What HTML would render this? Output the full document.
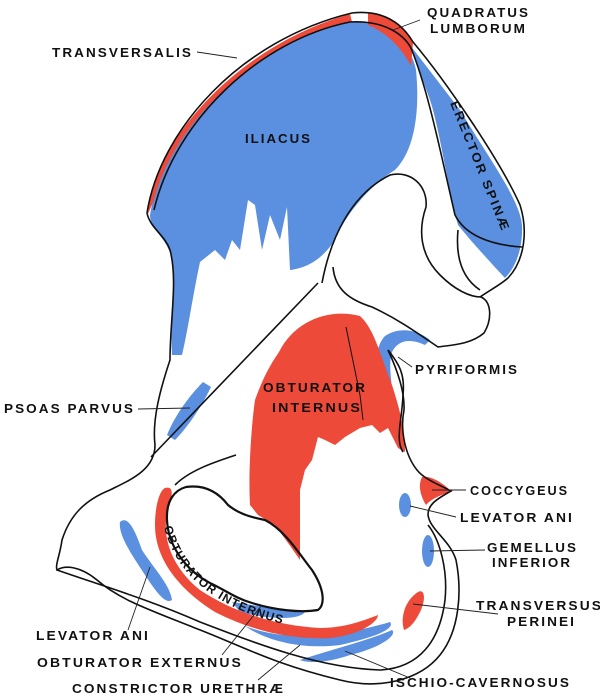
<!DOCTYPE html>
<html><head><meta charset="utf-8"><style>
html,body{margin:0;padding:0;background:#fff;}
svg{display:block;}
text{font-family:"Liberation Sans",sans-serif;font-weight:bold;font-size:12.5px;fill:#111;letter-spacing:1.9px;}
</style></head><body>
<svg width="600" height="699" viewBox="0 0 600 699" xmlns="http://www.w3.org/2000/svg">
<g fill="#5b8fe0">
<path d="M150,215 C165,130 250,40 352,22 C385,22 410,40 416,70 C420,110 415,150 395,170 C370,185 345,215 335,240 C320,262 305,268 290,270 L287,207 L280,240 L270,215 L262,250 L255,205 L248,200 L240,250 L232,240 L225,260 L215,250 L200,262 C192,300 188,330 182,355 L172,355 C170,320 176,290 172,258 C165,235 150,230 150,215 Z"/>
<path d="M410,45 L460,110 C490,160 520,200 522,225 C523,250 515,268 505,278 C490,262 470,240 458,225 C448,190 440,130 430,100 Z"/>
<path d="M384,393 C376,375 372,350 385,336 C400,326 418,330 430,340 L425,345 C410,338 398,340 392,352 C388,365 392,380 392,393 Z"/>
<path d="M203,382 L211,387 C200,410 185,430 175,440 L167,435 C175,415 190,395 203,382 Z"/>
<path d="M120,522 C128,515 135,530 142,550 C155,570 170,585 172,600 C165,605 155,590 145,575 C132,555 118,535 120,522 Z"/>
<path d="M232,602 C260,606 290,612 305,612 C300,620 270,620 240,612 Z"/>
<path d="M245,626 C280,640 330,640 390,622 C395,628 380,636 340,645 C300,650 265,640 245,626 Z"/>
<path d="M300,660 C330,650 370,640 392,630 C398,635 380,648 350,655 C330,662 310,664 300,660 Z"/>
<ellipse cx="405" cy="505" rx="6" ry="12"/>
<ellipse cx="428" cy="551" rx="6" ry="16"/>
</g>
<g fill="#ee4a3a">
<path d="M148,214 C150,150 230,48 350,14 L352,22 C260,40 175,120 154,200 Z"/>
<path d="M368,13 C385,12 403,25 413,43 L411,66 C400,45 385,32 368,25 Z"/>
<path d="M279,352 C295,320 330,308 360,316 C375,330 380,355 392,385 C400,410 405,430 405,452 L398,448 L388,428 L380,433 L372,425 L360,428 L345,437 L335,445 L325,440 L318,437 L312,460 L305,470 L300,490 L300,560 C292,548 282,535 275,525 L258,515 L250,505 C248,470 252,420 255,400 C262,380 270,365 279,352 Z"/>
<path d="M165,488 C175,485 172,498 168,510 C160,540 175,570 200,590 C230,610 270,625 320,628 C345,628 365,620 378,615 C378,622 360,635 330,638 C290,640 250,630 215,612 C180,590 155,560 155,525 C155,505 160,490 165,488 Z"/>
<path d="M422,477 C432,475 445,485 451,491 C442,495 432,498 426,505 C420,495 418,485 422,477 Z"/>
<path d="M418,592 C425,588 426,600 420,612 C415,622 410,628 404,630 C400,618 405,600 418,592 Z"/>
</g>
<g fill="none" stroke="#111" stroke-width="1.6">
<path d="M147,213 C160,130 240,40 352,13 C380,10 400,20 413,42 C445,80 500,160 520,205 C528,230 525,260 508,278 C500,285 490,290 480,297"/>
<path d="M154,210 C175,120 260,40 350,22 C385,20 405,35 412,50"/>
<path d="M411,48 C428,90 440,150 455,215 C465,235 490,245 522,247"/>
<path d="M147,213 C150,228 165,235 170,250 C178,280 170,320 170,360 C160,390 152,420 155,445 C155,470 130,480 110,490 C85,500 70,515 62,540 C60,555 55,565 57,570 C65,565 80,566 97,580 C120,600 150,610 195,628 C240,645 270,663 340,680 C380,690 420,680 440,655 C460,630 462,590 456,560 C450,540 430,530 428,515 C428,505 435,500 451,491 C440,485 425,480 417,470 C405,455 400,430 404,410 C405,390 395,365 388,350"/>
<path d="M57,570 C100,585 150,600 200,622 C260,645 320,668 380,670 C420,668 440,640 445,600 C448,570 440,540 428,525"/>
<path d="M322,283 C330,240 350,195 390,175 C410,170 428,185 426,207 C418,230 420,255 440,275 C455,290 470,297 481,297 C492,302 492,320 484,333 C470,345 450,345 438,347 C420,335 400,320 372,307 C350,300 335,290 333,267"/>
<path d="M458,230 C455,262 465,280 480,290"/>
<path d="M318,283 L151,457"/>
<path d="M388,350 C400,365 405,375 403,395 C402,420 395,440 403,452"/>
<path stroke-width="2.2" d="M186,487 C200,485 215,488 228,505 C240,515 255,518 265,520 C285,530 300,555 312,570 C325,590 325,605 318,610 C300,613 275,610 252,603 C235,598 225,590 210,583 C185,570 168,545 167,520 C166,500 175,490 186,487 Z"/>
<path d="M236,455 C215,462 190,470 175,485"/>
<path d="M346,327 L360,395 L363,420" stroke-width="1"/>
</g>
<g stroke="#222" stroke-width="0.9" fill="none">
<line x1="197" y1="52" x2="237" y2="58"/>
<line x1="420" y1="20" x2="393" y2="30"/>
<line x1="412" y1="367" x2="398" y2="357"/>
<line x1="138" y1="409" x2="190" y2="408"/>
<line x1="466" y1="490" x2="432" y2="490"/>
<line x1="456" y1="517" x2="410" y2="506"/>
<line x1="485" y1="550" x2="430" y2="551"/>
<line x1="498" y1="614" x2="413" y2="604"/>
<line x1="128" y1="630" x2="150" y2="567"/>
<line x1="222" y1="655" x2="262" y2="605"/>
<line x1="258" y1="680" x2="300" y2="645"/>
<line x1="410" y1="678" x2="345" y2="651"/>
</g>
<text x="52" y="57" textLength="141" lengthAdjust="spacingAndGlyphs">TRANSVERSALIS</text>
<text x="427" y="17" textLength="103" lengthAdjust="spacingAndGlyphs">QUADRATUS</text>
<text x="430" y="33" textLength="97" lengthAdjust="spacingAndGlyphs">LUMBORUM</text>
<text x="245" y="143" textLength="67" lengthAdjust="spacingAndGlyphs">ILIACUS</text>
<text transform="translate(450,103) rotate(68)" textLength="140" lengthAdjust="spacingAndGlyphs">ERECTOR SPINÆ</text>
<text x="415" y="374" textLength="104" lengthAdjust="spacingAndGlyphs">PYRIFORMIS</text>
<text x="263" y="392" textLength="104" lengthAdjust="spacingAndGlyphs">OBTURATOR</text>
<text x="272" y="412" textLength="90" lengthAdjust="spacingAndGlyphs">INTERNUS</text>
<text x="4" y="413" textLength="131" lengthAdjust="spacingAndGlyphs">PSOAS PARVUS</text>
<text x="470" y="495" textLength="99" lengthAdjust="spacingAndGlyphs">COCCYGEUS</text>
<text x="460" y="522" textLength="114" lengthAdjust="spacingAndGlyphs">LEVATOR ANI</text>
<text x="487" y="552" textLength="91" lengthAdjust="spacingAndGlyphs">GEMELLUS</text>
<text x="492" y="567" textLength="80" lengthAdjust="spacingAndGlyphs">INFERIOR</text>
<text x="476" y="610" textLength="127" lengthAdjust="spacingAndGlyphs">TRANSVERSUS</text>
<text x="507" y="626" textLength="69" lengthAdjust="spacingAndGlyphs">PERINEI</text>
<text x="36" y="640" textLength="114" lengthAdjust="spacingAndGlyphs">LEVATOR ANI</text>
<text x="37" y="667" textLength="206" lengthAdjust="spacingAndGlyphs">OBTURATOR EXTERNUS</text>
<text x="72" y="693" textLength="213" lengthAdjust="spacingAndGlyphs">CONSTRICTOR URETHRÆ</text>
<text x="390" y="687" textLength="181" lengthAdjust="spacingAndGlyphs">ISCHIO-CAVERNOSUS</text>
<path id="band" d="M164,527 C175,570 205,595 245,612 C285,628 320,632 365,625" fill="none"/>
<text style="font-size:12px;letter-spacing:1.2px"><textPath href="#band">OBTURATOR INTERNUS</textPath></text>
</svg>
</body></html>
